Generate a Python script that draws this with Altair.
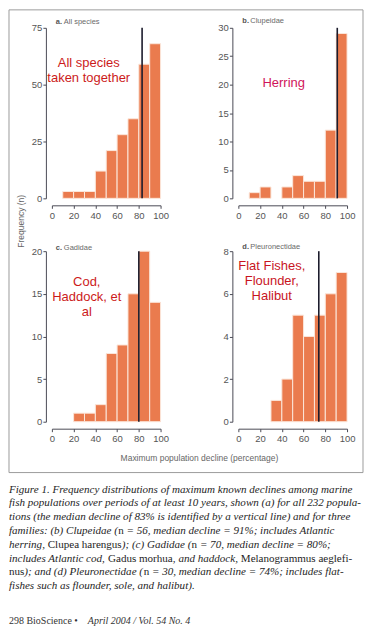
import altair as alt
import pandas as pd

# ---------------- data ----------------
bin_start = [10, 20, 30, 40, 50, 60, 70, 80, 90]
bin_end = [20, 30, 40, 50, 60, 70, 80, 90, 100]
counts_a = [3, 3, 3, 12, 21, 28, 35, 59, 68]
counts_b = [1, 2, 0, 2, 4, 3, 3, 12, 29]
counts_c = [0, 1, 1, 2, 8, 9, 15, 20, 14]
counts_d = [0, 0, 1, 2, 5, 4, 5, 6, 7]
medians = [83, 91, 80, 74]
y_max = [75, 30, 20, 8]
y_step = [25, 5, 5, 2]
x_ticks = [0, 20, 40, 60, 80, 100]
panel_letters = ["a.", "b.", "c.", "d."]
panel_names = ["All species", "Clupeidae", "Gadidae", "Pleuronectidae"]
notes = [
    "All species\ntaken together",
    "Herring",
    "Cod,\nHaddock, et\nal",
    "Flat Fishes,\nFlounder,\nHalibut",
]
note_colors = ["#cc1a1a", "#d0145a", "#cc1a1a", "#c8141e"]
x_title = "Maximum population decline (percentage)"
y_title = "Frequency (n)"
# caption: each line is a list of (text, style) segments; "i" italic, "r" roman
caption_lines = [
    [("Figure 1. Frequency distributions of maximum known declines among marine", "i")],
    [("fish populations over periods of at least 10 years, shown (a) for all 232 popula-", "i")],
    [("tions (the median decline of 83% is identified by a vertical line) and for three", "i")],
    [("families: (b) Clupeidae (", "i"), ("n ", "r"),
     ("= 56, median decline = 91%; includes Atlantic", "i")],
    [("herring, ", "i"), ("Clupea harengus", "r"), ("); (c) Gadidae (", "i"),
     ("n ", "r"), ("= 70, median decline = 80%;", "i")],
    [("includes Atlantic cod, ", "i"), ("Gadus morhua, ", "r"),
     ("and haddock, ", "i"), ("Melanogrammus aeglefi-", "r")],
    [("nus", "r"), ("); and (d) Pleuronectidae (", "i"), ("n ", "r"),
     ("= 30, median decline = 74%; includes flat-", "i")],
    [("fishes such as flounder, sole, and halibut).", "i")],
]
footer = [("298  BioScience  \u2022  ", "r"), ("April 2004 / Vol. 54 No. 4", "i")]

# ---------------- style ----------------
W, H = 109, 171
BAR = "#ea7b4e"
AXIS_C = "#4a4a55"
LABEL_C = "#555555"
SANS = "Liberation Sans"
SERIF = "Liberation Serif"
CAP_SIZE = 11.1
FOOT_SIZE = 10

# Times metrics (per 1000 em) used to place roman / italic segments side by side
_CHARS = " %(),-./:;=\u2022ABCDEFGHIJKLMNOPQRSTUVWXYZabcdefghijklmnopqrstuvwxyz"
_ROMAN = dict(zip(_CHARS,
    [250, 833, 333, 333, 250, 333, 250, 278, 278, 278, 564, 350,
     722, 667, 667, 722, 611, 556, 722, 722, 333, 389, 722, 611, 889, 722, 722,
     556, 722, 667, 556, 611, 722, 722, 944, 722, 722, 611,
     444, 500, 444, 500, 444, 333, 500, 500, 278, 278, 500, 278, 778, 500, 500,
     500, 500, 333, 389, 278, 500, 500, 722, 500, 500, 444]))
_ITAL = dict(zip(_CHARS,
    [250, 833, 333, 333, 250, 333, 250, 278, 333, 333, 675, 350,
     611, 611, 667, 722, 611, 611, 722, 722, 333, 444, 667, 556, 833, 667, 722,
     611, 722, 611, 500, 556, 722, 611, 833, 611, 556, 556,
     500, 500, 444, 500, 444, 278, 500, 500, 278, 278, 444, 278, 722, 500, 500,
     500, 500, 389, 389, 278, 500, 444, 667, 444, 444, 389]))


def text_width(s, style, size):
    table = _ITAL if style == "i" else _ROMAN
    return sum(table.get(ch, 500) for ch in s) * size / 1000.0


def one(**kw):
    return pd.DataFrame([kw])


def text_layer(txt, x, y, **mk):
    return alt.Chart(one(t=txt)).mark_text(**mk).encode(
        x=alt.value(x), y=alt.value(y), text="t:N"
    )


def segment_layers(segments, x0, y, size, color):
    out = []
    x = x0
    for txt, style in segments:
        kw = dict(font=SERIF, fontSize=size, color=color, align="left",
                  baseline="alphabetic")
        if style == "i":
            kw["fontStyle"] = "italic"
        out.append(text_layer(txt.rstrip(), round(x, 2), y, **kw))
        x += text_width(txt, style, size)
    return out


def panel(i, counts, note_xy, title_dy, extra=()):
    df = pd.DataFrame({"start": bin_start, "end": bin_end, "n": counts})
    df = df[df["n"] > 0]
    xs = alt.Scale(domain=[0, 100], nice=False, zero=False)
    ys = alt.Scale(domain=[0, y_max[i]], nice=False)
    x_axis = alt.Axis(values=x_ticks, offset=7, tickSize=3, labelPadding=2,
                      grid=False, labelOverlap=False, labelFlush=False)
    y_axis = alt.Axis(values=list(range(0, y_max[i] + 1, y_step[i])), offset=6,
                      tickSize=3, labelPadding=1, grid=False,
                      labelOverlap=False, labelFlush=False)
    bars = alt.Chart(df).mark_rect(
        color=BAR, stroke="#fbe6da", strokeWidth=1
    ).encode(
        x=alt.X("start:Q", scale=xs, title=None, axis=x_axis),
        x2="end:Q",
        y=alt.Y("n:Q", scale=ys, title=None, axis=y_axis),
        y2=alt.datum(0),
    )
    med = alt.Chart(one(m=medians[i])).mark_rule(
        color="#1c1c2c", strokeWidth=1.6
    ).encode(x=alt.X("m:Q", scale=xs, title=None, axis=x_axis),
             y=alt.value(0), y2=alt.value(H))
    letter = text_layer(panel_letters[i], 4, title_dy, font=SANS, fontSize=7.5,
                        fontWeight="bold", color="#555555", align="left",
                        baseline="middle")
    name = text_layer(panel_names[i], 12, title_dy, font=SANS, fontSize=7.5,
                      color="#6a6a6a", align="left", baseline="middle")
    note = text_layer(notes[i], note_xy[0], note_xy[1], font=SANS, fontSize=13,
                      color=note_colors[i], align="center", baseline="middle",
                      lineBreak="\n", lineHeight=15)
    layers = [bars, med, letter, name, note] + list(extra)
    return alt.layer(*layers).properties(width=W, height=H)


# decorations attached to panel a (frame, y title)
frame = alt.Chart(one(k=0)).mark_rect(
    fillOpacity=0, stroke="#9c9c9c", strokeWidth=1
).encode(x=alt.value(-43), x2=alt.value(312), y=alt.value(-18), y2=alt.value(446))
ytitle = text_layer(y_title, -31, 194, font=SANS, fontSize=8.5, color="#666666",
                    angle=270, align="center", baseline="middle")

# decorations attached to panel c (x title, caption, footer)
xtitle = text_layer(x_title, 148, 207.5, font=SANS, fontSize=8.5,
                    color="#666666", align="center", baseline="middle")
cap_layers = []
for k, line in enumerate(caption_lines):
    cap_layers += segment_layers(line, -43, 242 + k * 13.85, CAP_SIZE, "#1e1e1e")
foot_layers = segment_layers(footer, -43, 373.5, FOOT_SIZE, "#333333")

pa = panel(0, counts_a, (37, 35.5), -6, [frame, ytitle])
pb = panel(1, counts_b, (45.5, 55.5), -7)
pc = panel(2, counts_c, (35, 31), -3.5, [xtitle] + cap_layers + foot_layers)
pd_ = panel(3, counts_d, (33.5, 15), -4.5)

chart = alt.concat(
    pa, pb, pc, pd_, columns=2, bounds="flush",
    spacing=alt.RowColnumber(row=53, column=78),
).properties(
    padding=0, background="white"
).configure_view(stroke=None).configure_axis(
    domainColor=AXIS_C, tickColor=AXIS_C, labelColor=LABEL_C,
    labelFont=SANS, labelFontSize=9.5, domainWidth=1, tickWidth=1,
    labelOverlap=False, labelFlush=False
)

chart.save("out.html", embed_options={"renderer": "svg", "actions": False})
